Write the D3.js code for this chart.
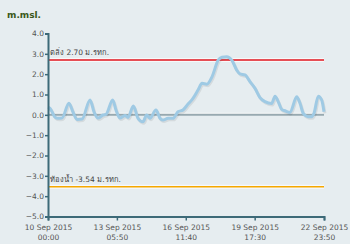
<!DOCTYPE html>
<html>
<head>
<meta charset="utf-8">
<script src="https://cdn.jsdelivr.net/npm/d3@7.9.0/dist/d3.min.js"></script>
<style>
  body { margin: 0; background: #e6edf0; }
  svg { display: block; font-family: "DejaVu Sans", Verdana, sans-serif; }
</style>
</head>
<body>
<svg id="chart"></svg>
<script>
// hours after 10 Sep 2015 00:00 and water level (m.msl.)
const hours = [0, 2.3, 7.9, 11.3, 15.8, 23.7, 28.2, 32.8, 38.4, 47.5, 52, 56.5, 62.1, 65.5, 73.1, 76.8,
  81.3, 87, 90.4, 96.4, 101.7, 107.3, 111.5, 115.2, 122, 126.5, 129.9, 135.6, 141.2, 146.9, 152.5,
  158.2, 163.8, 169.5, 174, 179.6, 185.3, 192.4, 196.6, 201.9, 207.5, 213.2, 216.9, 222.6, 228.2,
  233.9, 239.5, 245.2, 252.7, 256.5, 260.2, 264, 267.8, 273.4, 281, 284.7, 288.4, 294.1, 297.9,
  300.5, 305.4, 309.2, 311.8];
const levels = [0.38, 0.32, -0.11, -0.17, -0.16, 0.57, 0.14, -0.23, -0.21, 0.73, 0.14, -0.16, -0.01, 0.02, 0.73, 0.24,
  -0.16, -0.03, -0.13, 0.43, -0.17, -0.34, -0.01, -0.17, 0.24, -0.17, -0.26, -0.17, -0.17, 0.15, 0.24,
  0.53, 0.81, 1.22, 1.55, 1.51, 1.87, 2.70, 2.83, 2.86, 2.70, 2.20, 2.01, 1.96, 1.63,
  1.30, 0.85, 0.65, 0.56, 0.92, 0.64, 0.27, 0.20, 0.12, 0.89, 0.57, 0.07, -0.09, -0.09,
  0.07, 0.92, 0.73, 0.15];

const bankLevel = 2.70;
const bedLevel = -3.54;
const bankLabel = "ตลิ่ง 2.70 ม.รทก.";
const bedLabel = "ท้องน้ำ -3.54 ม.รทก.";

const yTicks = [4, 3, 2, 1, 0, -1, -2, -3, -4, -5];
const xTickDates = ["2015-09-10T00:00", "2015-09-13T05:50", "2015-09-16T11:40", "2015-09-19T17:30", "2015-09-22T23:50"];

const start = new Date("2015-09-10T00:00");
const data = hours.map((h, i) => ({ t: new Date(+start + h * 3600e3), v: levels[i] }));

const width = 350, height = 244;
const svg = d3.select("#chart").attr("width", width).attr("height", height);

const x = d3.scaleTime()
  .domain([new Date(xTickDates[0]), new Date(xTickDates[4])])
  .range([48, 324]);
const y = d3.scaleLinear().domain([-5, 4]).range([216.5, 33.5]);

// title
svg.append("text")
  .attr("x", 7).attr("y", 18)
  .attr("font-size", 9).attr("font-weight", "bold")
  .attr("fill", "#3a581a")
  .text("m.msl.");

// zero line
svg.append("line")
  .attr("x1", x.range()[0]).attr("x2", x.range()[1])
  .attr("y1", y(0) - 1.5).attr("y2", y(0) - 1.5)
  .attr("stroke", "#fff").attr("stroke-width", 1);
svg.append("line")
  .attr("x1", x.range()[0]).attr("x2", x.range()[1])
  .attr("y1", y(0)).attr("y2", y(0))
  .attr("stroke", "#97a9b0").attr("stroke-width", 2);

// threshold lines
const thresholds = [
  { v: bankLevel, color: "#e0141e", label: bankLabel },
  { v: bedLevel, color: "#f5a800", label: bedLabel }
];
thresholds.forEach(d => {
  svg.append("line")
    .attr("x1", x.range()[0]).attr("x2", x.range()[1])
    .attr("y1", y(d.v)).attr("y2", y(d.v))
    .attr("stroke", "#fff").attr("stroke-width", 4).attr("opacity", 0.7);
  svg.append("line")
    .attr("x1", x.range()[0]).attr("x2", x.range()[1])
    .attr("y1", y(d.v)).attr("y2", y(d.v))
    .attr("stroke", d.color).attr("stroke-width", 1.6);
  svg.append("text")
    .attr("x", 50).attr("y", y(d.v) - 5)
    .attr("font-size", 7.5).attr("fill", "#444")
    .text(d.label);
});

// water level line
const line = d3.line()
  .x(d => x(d.t))
  .y(d => y(d.v))
  .curve(d3.curveMonotoneX);

svg.append("path")
  .datum(data)
  .attr("d", line)
  .attr("transform", "translate(1,1.5)")
  .attr("fill", "none")
  .attr("stroke", "rgba(0,0,0,0.08)")
  .attr("stroke-width", 3);
svg.append("path")
  .datum(data)
  .attr("d", line)
  .attr("fill", "none")
  .attr("stroke", "#9fcae4")
  .attr("stroke-width", 3)
  .attr("stroke-linejoin", "round");

// axes
const axisColor = "#3d6a78";
const yAxis = svg.append("g")
  .attr("transform", `translate(${x.range()[0]},0)`)
  .call(d3.axisLeft(y).tickValues(yTicks).tickSize(3).tickFormat(d3.format(".1f")));
const xAxis = svg.append("g")
  .attr("transform", `translate(0,${y(-5)})`)
  .call(d3.axisBottom(x).tickValues(xTickDates.map(d => new Date(d))).tickSize(4).tickFormat(""));

[yAxis, xAxis].forEach(g => {
  g.select(".domain").attr("stroke", axisColor).attr("stroke-width", 2);
  g.selectAll(".tick line").attr("stroke", axisColor).attr("stroke-width", 1.5);
});
yAxis.selectAll(".tick text")
  .attr("font-size", 7.5).attr("fill", "#555").attr("font-family", "DejaVu Sans, sans-serif")
  .attr("x", -4);

const fmtDate = d3.timeFormat("%-d %b %Y");
const fmtTime = d3.timeFormat("%H:%M");
xAxis.selectAll(".tick").each(function(d) {
  const t = d3.select(this).append("text")
    .attr("fill", "#555").attr("font-size", 7.5)
    .attr("font-family", "DejaVu Sans, sans-serif")
    .attr("text-anchor", "middle");
  t.append("tspan").attr("x", 0).attr("y", 13).text(fmtDate(d));
  t.append("tspan").attr("x", 0).attr("y", 23).text(fmtTime(d));
});
</script>
</body>
</html>
